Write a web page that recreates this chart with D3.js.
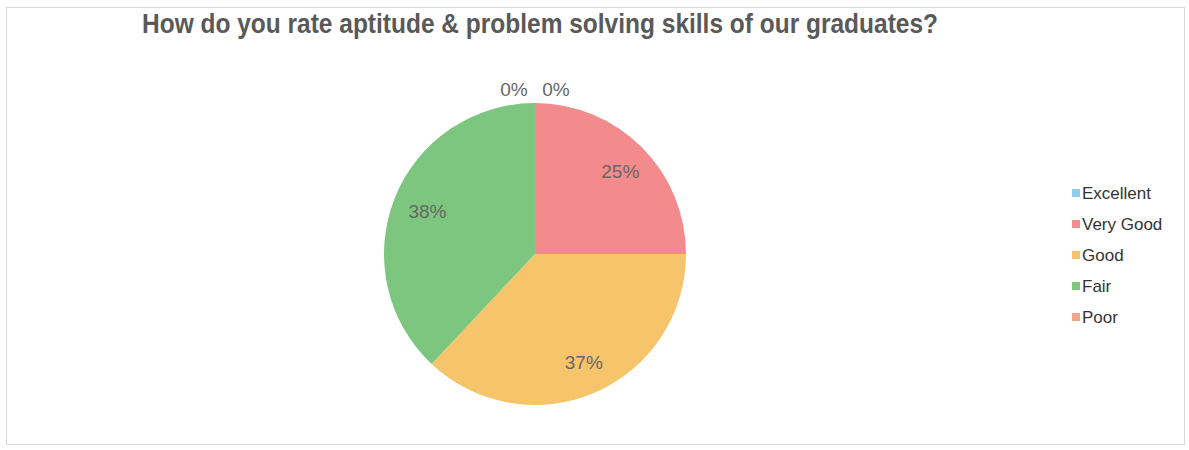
<!DOCTYPE html>
<html>
<head>
<meta charset="utf-8">
<script src="https://cdn.jsdelivr.net/npm/d3@7"></script>
<style>
  body { margin: 0; background: #fff; }
  svg { display: block; font-family: "Liberation Sans", Arial, sans-serif; }
</style>
</head>
<body>
<div id="chart"></div>
<script>
// chart data
const categories = ["Excellent", "Very Good", "Good", "Fair", "Poor"];
const shares = [0, 25, 37, 38, 0];
const colors = ["#8ecfef", "#f38b8c", "#f6c46b", "#7dc67f", "#f4a585"];
const title = "How do you rate aptitude & problem solving skills of our graduates?";

const width = 1189, height = 450;
const cx = 535, cy = 254, radius = 151;

const data = categories.map((c, i) => ({ name: c, value: shares[i] }));

const svg = d3.select("#chart").append("svg")
    .attr("width", width)
    .attr("height", height);

// frame
svg.append("rect")
    .attr("x", 6.5).attr("y", 7.5)
    .attr("width", 1178).attr("height", 437)
    .attr("fill", "#fff")
    .attr("stroke", "#d9d9d9");

// title is a bit taller than wide in the original, so stretch it
svg.append("text")
    .attr("transform", "translate(540,33) scale(1,1.12)")
    .attr("text-anchor", "middle")
    .attr("font-size", 24.5)
    .attr("font-weight", "bold")
    .attr("fill", "#595959")
    .text(title);

const color = d3.scaleOrdinal().domain(categories).range(colors);

const pie = d3.pie().sort(null).value(d => d.value);
const arcs = pie(data);
const arc = d3.arc().innerRadius(0).outerRadius(radius);
const labelArc = d3.arc().innerRadius(radius * 0.78).outerRadius(radius * 0.78);

const g = svg.append("g").attr("transform", `translate(${cx},${cy})`);

g.selectAll("path.slice")
    .data(arcs)
    .enter().append("path")
    .attr("class", "slice")
    .attr("d", arc)
    .attr("fill", d => color(d.data.name));

// labels - zero slices get pushed outside and nudged apart
g.selectAll("text.lbl")
    .data(arcs)
    .enter().append("text")
    .attr("class", "lbl")
    .attr("text-anchor", "middle")
    .attr("font-size", 19)
    .attr("fill", "#666")
    .attr("transform", d => {
        if (d.data.value === 0) {
            const side = d.startAngle < Math.PI ? 1 : -1;
            return `translate(${side * 21},${-radius - 157 + 150})`;
        }
        const [x, y] = labelArc.centroid(d);
        return `translate(${x + 2},${y + 7})`;
    })
    .text(d => d.data.value + "%");

// legend
const legend = svg.append("g").attr("transform", "translate(1072,193)");
const rows = legend.selectAll("g")
    .data(categories)
    .enter().append("g")
    .attr("transform", (d, i) => `translate(0,${i * 31})`);

rows.append("rect")
    .attr("x", 0).attr("y", -4)
    .attr("width", 8).attr("height", 8)
    .attr("fill", d => color(d));

rows.append("text")
    .attr("x", 10).attr("y", 6)
    .attr("font-size", 17)
    .attr("fill", "#333")
    .text(d => d);
</script>
</body>
</html>
